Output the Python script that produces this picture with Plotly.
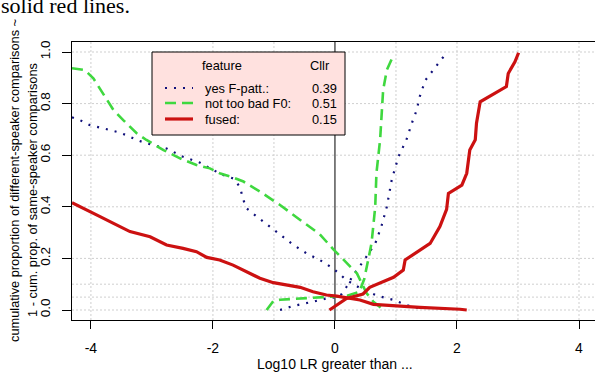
import plotly.graph_objects as go

# ---------------- data ----------------
fpatt_diff_x = [-4.31, -4.18, -4.02, -3.80, -3.58, -3.42, -3.25, -3.09, -2.76, -2.49, -2.32, -2.21, -2.05,
                -1.83, -1.67, -1.56, -1.50, -1.45, -1.28, -1.07, -0.85, -0.68, -0.47, -0.25, -0.03, 0.19,
                0.46, 0.71, 0.96, 1.17, 1.39, 1.45]
fpatt_diff_y = [0.747, 0.736, 0.717, 0.704, 0.691, 0.678, 0.659, 0.646, 0.626, 0.594, 0.581, 0.571, 0.549,
                0.523, 0.510, 0.478, 0.426, 0.394, 0.362, 0.323, 0.284, 0.252, 0.220, 0.194, 0.161, 0.116,
                0.078, 0.054, 0.039, 0.019, 0.006, 0.003]
fpatt_same_x = [-0.90, -0.68, -0.36, -0.14, 0.08, 0.19, 0.30, 0.46, 0.66, 0.76, 0.85, 0.93, 1.04, 1.17,
                1.26, 1.34, 1.39, 1.48, 1.61, 1.78]
fpatt_same_y = [0.0, 0.016, 0.032, 0.045, 0.052, 0.090, 0.136, 0.187, 0.258, 0.323, 0.400, 0.504, 0.594,
                0.659, 0.724, 0.775, 0.827, 0.890, 0.930, 0.982]

f0_diff_x = [-4.31, -4.10, -3.96, -3.80, -3.63, -3.47, -3.25, -3.09, -2.81, -2.54, -2.27, -2.05, -1.89,
             -1.67, -1.50, -1.23, -0.90, -0.57, -0.25, -0.03, 0.19, 0.36, 0.44, 0.52, 0.63, 0.77]
f0_diff_y = [0.937, 0.930, 0.898, 0.840, 0.775, 0.736, 0.685, 0.659, 0.620, 0.588, 0.562, 0.549, 0.530,
             0.514, 0.498, 0.459, 0.407, 0.349, 0.294, 0.236, 0.181, 0.142, 0.103, 0.065, 0.032, 0.006]
f0_same_x = [-1.12, -1.01, -0.90, -0.20, 0.20, 0.40, 0.48, 0.55, 0.60, 0.66, 0.68, 0.74, 0.76, 0.79,
             0.85, 0.96]
f0_same_y = [0.0, 0.035, 0.040, 0.048, 0.055, 0.070, 0.120, 0.200, 0.260, 0.400, 0.530, 0.660, 0.750,
             0.853, 0.930, 0.988]

fused_diff_x = [-4.31, -4.18, -3.85, -3.63, -3.36, -3.03, -2.76, -2.49, -2.27, -2.10, -1.89, -1.67,
                -1.45, -1.23, -1.01, -0.57, -0.36, -0.14, 0.03, 0.41, 0.63, 1.01, 1.39, 2.05, 2.16]
fused_diff_y = [0.416, 0.400, 0.362, 0.336, 0.304, 0.284, 0.252, 0.239, 0.226, 0.204, 0.194, 0.174,
                0.149, 0.123, 0.106, 0.088, 0.071, 0.058, 0.054, 0.039, 0.022, 0.016, 0.010, 0.003, 0.0]
fused_same_x = [-0.09, 0.19, 0.46, 0.57, 0.96, 1.12, 1.15, 1.56, 1.72, 1.83, 1.86, 2.08, 2.16, 2.21,
                2.30, 2.32, 2.38, 2.62, 2.81, 2.84, 2.95, 3.01]
fused_same_y = [0.0, 0.045, 0.062, 0.088, 0.127, 0.155, 0.194, 0.258, 0.323, 0.390, 0.452, 0.484, 0.530,
                0.620, 0.660, 0.724, 0.807, 0.840, 0.866, 0.917, 0.962, 0.997]

legend_labels = ["yes F-patt.:", "not too bad F0:", "fused:"]
cllr_values = ["0.39", "0.51", "0.15"]

x_ticks = [-4, -2, 0, 2, 4]
y_ticks = [0.0, 0.2, 0.4, 0.6, 0.8, 1.0]
y_tick_text = ["0.0", "0.2", "0.4", "0.6", "0.8", "1.0"]
v_grid = [-4, -2, -1, 1, 2, 3, 4]
h_grid = [0.0, 0.05, 0.1, 0.2, 0.4, 0.6, 0.8, 1.0]

# ---------------- styles ----------------
BLUE = "#10107A"
GREEN = "#3FD83F"
RED = "#CC1111"
FONT = "Liberation Sans, Arial, sans-serif"
styles = [
    dict(color=BLUE, width=2.2, dash="2px,7px"),
    dict(color=GREEN, width=2.6, dash="11px,6px"),
    dict(color=RED, width=3.2, dash="solid"),
]

W, H = 595, 373
L, R, T, B = 72, 0, 42, 53
PW, PH = W - L - R, H - T - B


def px_x(px):
    return (px - L) / PW


def px_y(py):
    return (H - B - py) / PH


fig = go.Figure()
series = [
    (fpatt_diff_x, fpatt_diff_y, fpatt_same_x, fpatt_same_y),
    (f0_diff_x, f0_diff_y, f0_same_x, f0_same_y),
    (fused_diff_x, fused_diff_y, fused_same_x, fused_same_y),
]
for (dx, dy, sx, sy), st in zip(series, styles):
    for xs, ys in ((dx, dy), (sx, sy)):
        fig.add_trace(go.Scatter(x=xs, y=ys, mode="lines", line=st, showlegend=False,
                                 hoverinfo="skip"))

shapes = []
for gx in v_grid:
    shapes.append(dict(type="line", xref="x", yref="paper", x0=gx, x1=gx, y0=0, y1=1,
                       line=dict(color="#CFCFCF", width=1, dash="2px,2px"), layer="below"))
for gy in h_grid:
    shapes.append(dict(type="line", xref="paper", yref="y", x0=0, x1=1, y0=gy, y1=gy,
                       line=dict(color="#CFCFCF", width=1, dash="2px,2px"), layer="below"))
# vertical line at 0
shapes.append(dict(type="line", xref="x", yref="paper", x0=0, x1=0, y0=0, y1=1,
                   line=dict(color="black", width=1), layer="below"))

# legend box
shapes.append(dict(type="rect", xref="paper", yref="paper",
                   x0=px_x(152), x1=px_x(345), y0=px_y(135), y1=px_y(52),
                   fillcolor="#FFE1DF", line=dict(color="black", width=1), layer="above"))
row_y = [88, 103, 119]
annotations = []
for ry, st, lab, val in zip(row_y, styles, legend_labels, cllr_values):
    shapes.append(dict(type="line", xref="paper", yref="paper",
                       x0=px_x(165), x1=px_x(193), y0=px_y(ry), y1=px_y(ry),
                       line=st, layer="above"))
    annotations.append(dict(text=lab, xref="paper", yref="paper", x=px_x(203), y=px_y(ry),
                            xanchor="left", yanchor="middle", showarrow=False,
                            font=dict(family=FONT, size=12.8, color="black")))
    annotations.append(dict(text=val, xref="paper", yref="paper", x=px_x(339), y=px_y(ry),
                            xanchor="right", yanchor="middle", showarrow=False,
                            font=dict(family=FONT, size=12.8, color="black")))
annotations.append(dict(text="feature", xref="paper", yref="paper", x=px_x(222), y=px_y(65),
                        xanchor="center", yanchor="middle", showarrow=False,
                        font=dict(family=FONT, size=12.8, color="black")))
annotations.append(dict(text="Cllr", xref="paper", yref="paper", x=px_x(320), y=px_y(65),
                        xanchor="center", yanchor="middle", showarrow=False,
                        font=dict(family=FONT, size=12.8, color="black")))

# axis titles
annotations.append(dict(text="cumulative proportion of different-speaker comparisons ~",
                        xref="paper", yref="paper", x=px_x(14), y=px_y(181),
                        xanchor="center", yanchor="middle", textangle=-90, showarrow=False,
                        font=dict(family=FONT, size=12.8, color="black")))
annotations.append(dict(text="1 - cum. prop. of same-speaker comparisons",
                        xref="paper", yref="paper", x=px_x(32), y=px_y(190),
                        xanchor="center", yanchor="middle", textangle=-90, showarrow=False,
                        font=dict(family=FONT, size=12.8, color="black")))
annotations.append(dict(text="Log10 LR greater than ...", xref="paper", yref="paper",
                        x=px_x(335), y=px_y(364), xanchor="center", yanchor="middle",
                        showarrow=False, font=dict(family=FONT, size=14, color="black")))
# cut-off caption text from the page above (it is cut at the top edge in the reference)
annotations.append(dict(text="solid red lines.", xref="paper", yref="paper",
                        x=px_x(-1), y=px_y(6), xanchor="left", yanchor="middle",
                        showarrow=False,
                        font=dict(family="Liberation Serif, Times New Roman, serif", size=22,
                                  color="black")))

fig.update_layout(
    width=W, height=H, margin=dict(l=L, r=R, t=T, b=B, pad=0),
    paper_bgcolor="white", plot_bgcolor="white",
    shapes=shapes, annotations=annotations, showlegend=False,
    font=dict(family=FONT, size=13, color="black"),
)
fig.update_xaxes(range=[-4.31, (W - 335) / 61.0], tickvals=x_ticks, ticktext=[str(v) for v in x_ticks],
                 showgrid=False, zeroline=False, showline=True, linecolor="black", linewidth=1,
                 mirror=True, ticks="outside", ticklen=8, tickcolor="black",
                 ticklabelstandoff=7, tickfont=dict(family=FONT, size=14))
fig.update_yaxes(range=[-10 / 258.0, 1 + 10 / 258.0], tickvals=y_ticks, ticktext=y_tick_text,
                 showgrid=False, zeroline=False, showline=True, linecolor="black", linewidth=1,
                 mirror=False, ticks="outside", ticklen=9, tickcolor="black", tickangle=-90,
                 ticklabelstandoff=7, tickfont=dict(family=FONT, size=13.5))

fig.write_html("out.html", config={"displayModeBar": False, "staticPlot": True},
               post_script="document.body.style.margin='0';document.body.style.overflow='hidden';")
